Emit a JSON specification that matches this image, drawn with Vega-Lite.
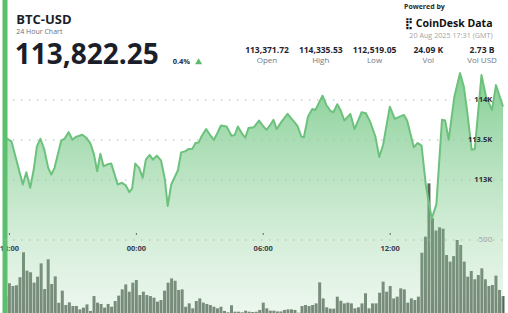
{
  "$schema": "https://vega.github.io/schema/vega-lite/v6.json",
  "width": 508,
  "height": 313,
  "autosize": {"type": "none"},
  "padding": 0,
  "background": "#ffffff",
  "config": {"view": {"stroke": null}, "font": "Open Sans"},
  "datasets": {
    "price": [
      {"t": "2025-08-19T17:47:00Z", "p": 113534}, {"t": "2025-08-19T18:06:00Z", "p": 113482},
      {"t": "2025-08-19T18:38:00Z", "p": 112944}, {"t": "2025-08-19T18:48:00Z", "p": 113097},
      {"t": "2025-08-19T18:59:00Z", "p": 112903}, {"t": "2025-08-19T19:09:00Z", "p": 113131},
      {"t": "2025-08-19T19:18:00Z", "p": 113420}, {"t": "2025-08-19T19:28:00Z", "p": 113516},
      {"t": "2025-08-19T19:39:00Z", "p": 113379}, {"t": "2025-08-19T19:50:00Z", "p": 113152},
      {"t": "2025-08-19T19:59:00Z", "p": 113069}, {"t": "2025-08-19T20:08:00Z", "p": 113152},
      {"t": "2025-08-19T20:27:00Z", "p": 113495}, {"t": "2025-08-19T20:36:00Z", "p": 113512},
      {"t": "2025-08-19T20:48:00Z", "p": 113599}, {"t": "2025-08-19T20:59:00Z", "p": 113503},
      {"t": "2025-08-19T21:08:00Z", "p": 113537}, {"t": "2025-08-19T21:27:00Z", "p": 113565},
      {"t": "2025-08-19T21:39:00Z", "p": 113524}, {"t": "2025-08-19T21:50:00Z", "p": 113454},
      {"t": "2025-08-19T22:00:00Z", "p": 113317}, {"t": "2025-08-19T22:09:00Z", "p": 113110},
      {"t": "2025-08-19T22:18:00Z", "p": 113329}, {"t": "2025-08-19T22:27:00Z", "p": 113172},
      {"t": "2025-08-19T22:37:00Z", "p": 113193}, {"t": "2025-08-19T22:49:00Z", "p": 113205},
      {"t": "2025-08-19T23:07:00Z", "p": 112944}, {"t": "2025-08-19T23:19:00Z", "p": 112965},
      {"t": "2025-08-19T23:30:00Z", "p": 112932}, {"t": "2025-08-19T23:40:00Z", "p": 112849},
      {"t": "2025-08-19T23:48:00Z", "p": 112891}, {"t": "2025-08-19T23:57:00Z", "p": 113205},
      {"t": "2025-08-20T00:08:00Z", "p": 113152}, {"t": "2025-08-20T00:18:00Z", "p": 113028},
      {"t": "2025-08-20T00:27:00Z", "p": 113255}, {"t": "2025-08-20T00:38:00Z", "p": 113313},
      {"t": "2025-08-20T00:47:00Z", "p": 113255}, {"t": "2025-08-20T00:58:00Z", "p": 113304},
      {"t": "2025-08-20T01:10:00Z", "p": 113246}, {"t": "2025-08-20T01:21:00Z", "p": 113006},
      {"t": "2025-08-20T01:29:00Z", "p": 112675}, {"t": "2025-08-20T01:39:00Z", "p": 112944},
      {"t": "2025-08-20T01:58:00Z", "p": 113122}, {"t": "2025-08-20T02:07:00Z", "p": 113345},
      {"t": "2025-08-20T02:18:00Z", "p": 113358}, {"t": "2025-08-20T02:29:00Z", "p": 113388},
      {"t": "2025-08-20T02:39:00Z", "p": 113391}, {"t": "2025-08-20T02:48:00Z", "p": 113462},
      {"t": "2025-08-20T02:57:00Z", "p": 113470}, {"t": "2025-08-20T03:06:00Z", "p": 113553},
      {"t": "2025-08-20T03:18:00Z", "p": 113636}, {"t": "2025-08-20T03:29:00Z", "p": 113565},
      {"t": "2025-08-20T03:40:00Z", "p": 113503}, {"t": "2025-08-20T03:49:00Z", "p": 113578},
      {"t": "2025-08-20T04:00:00Z", "p": 113681}, {"t": "2025-08-20T04:16:00Z", "p": 113668},
      {"t": "2025-08-20T04:30:00Z", "p": 113553}, {"t": "2025-08-20T04:39:00Z", "p": 113562},
      {"t": "2025-08-20T04:48:00Z", "p": 113668}, {"t": "2025-08-20T04:59:00Z", "p": 113586},
      {"t": "2025-08-20T05:09:00Z", "p": 113528}, {"t": "2025-08-20T05:18:00Z", "p": 113649},
      {"t": "2025-08-20T05:33:00Z", "p": 113658}, {"t": "2025-08-20T05:48:00Z", "p": 113743},
      {"t": "2025-08-20T05:57:00Z", "p": 113690}, {"t": "2025-08-20T06:09:00Z", "p": 113627},
      {"t": "2025-08-20T06:20:00Z", "p": 113690}, {"t": "2025-08-20T06:29:00Z", "p": 113752},
      {"t": "2025-08-20T06:38:00Z", "p": 113636}, {"t": "2025-08-20T06:52:00Z", "p": 113730},
      {"t": "2025-08-20T07:09:00Z", "p": 113826}, {"t": "2025-08-20T07:23:00Z", "p": 113752},
      {"t": "2025-08-20T07:37:00Z", "p": 113677}, {"t": "2025-08-20T07:48:00Z", "p": 113544},
      {"t": "2025-08-20T07:55:00Z", "p": 113532}, {"t": "2025-08-20T08:07:00Z", "p": 113793},
      {"t": "2025-08-20T08:19:00Z", "p": 113888}, {"t": "2025-08-20T08:28:00Z", "p": 113876},
      {"t": "2025-08-20T08:48:00Z", "p": 114053}, {"t": "2025-08-20T08:59:00Z", "p": 113938},
      {"t": "2025-08-20T09:11:00Z", "p": 113863}, {"t": "2025-08-20T09:19:00Z", "p": 113847},
      {"t": "2025-08-20T09:30:00Z", "p": 113947}, {"t": "2025-08-20T09:39:00Z", "p": 113876},
      {"t": "2025-08-20T09:50:00Z", "p": 113743}, {"t": "2025-08-20T10:07:00Z", "p": 113826},
      {"t": "2025-08-20T10:19:00Z", "p": 113636}, {"t": "2025-08-20T10:39:00Z", "p": 113847},
      {"t": "2025-08-20T10:51:00Z", "p": 113835}, {"t": "2025-08-20T11:03:00Z", "p": 113730},
      {"t": "2025-08-20T11:18:00Z", "p": 113544}, {"t": "2025-08-20T11:29:00Z", "p": 113288},
      {"t": "2025-08-20T11:40:00Z", "p": 113441}, {"t": "2025-08-20T11:59:00Z", "p": 113917},
      {"t": "2025-08-20T12:13:00Z", "p": 113764}, {"t": "2025-08-20T12:27:00Z", "p": 113793},
      {"t": "2025-08-20T12:39:00Z", "p": 113814}, {"t": "2025-08-20T12:48:00Z", "p": 113745},
      {"t": "2025-08-20T13:07:00Z", "p": 113410}, {"t": "2025-08-20T13:18:00Z", "p": 113462},
      {"t": "2025-08-20T13:29:00Z", "p": 113429}, {"t": "2025-08-20T13:41:00Z", "p": 112944},
      {"t": "2025-08-20T13:48:00Z", "p": 112758}, {"t": "2025-08-20T13:58:00Z", "p": 112519},
      {"t": "2025-08-20T14:11:00Z", "p": 112696}, {"t": "2025-08-20T14:27:00Z", "p": 113752},
      {"t": "2025-08-20T14:36:00Z", "p": 113743}, {"t": "2025-08-20T14:46:00Z", "p": 113503},
      {"t": "2025-08-20T15:02:00Z", "p": 114041}, {"t": "2025-08-20T15:18:00Z", "p": 114336},
      {"t": "2025-08-20T15:29:00Z", "p": 114165}, {"t": "2025-08-20T15:39:00Z", "p": 113835},
      {"t": "2025-08-20T15:51:00Z", "p": 113379}, {"t": "2025-08-20T16:00:00Z", "p": 113388},
      {"t": "2025-08-20T16:19:00Z", "p": 114311}, {"t": "2025-08-20T16:32:00Z", "p": 114041},
      {"t": "2025-08-20T16:49:00Z", "p": 113876}, {"t": "2025-08-20T17:00:00Z", "p": 114186},
      {"t": "2025-08-20T17:20:00Z", "p": 113917}
    ],
    "volume": [
      {"t": "2025-08-19T17:50:00Z", "v": 112}, {"t": "2025-08-19T18:00:00Z", "v": 203},
      {"t": "2025-08-19T18:10:00Z", "v": 185}, {"t": "2025-08-19T18:20:00Z", "v": 190},
      {"t": "2025-08-19T18:30:00Z", "v": 245}, {"t": "2025-08-19T18:40:00Z", "v": 416},
      {"t": "2025-08-19T18:50:00Z", "v": 290}, {"t": "2025-08-19T19:00:00Z", "v": 279},
      {"t": "2025-08-19T19:10:00Z", "v": 208}, {"t": "2025-08-19T19:20:00Z", "v": 249},
      {"t": "2025-08-19T19:30:00Z", "v": 340}, {"t": "2025-08-19T19:40:00Z", "v": 164},
      {"t": "2025-08-19T19:50:00Z", "v": 368}, {"t": "2025-08-19T20:00:00Z", "v": 199},
      {"t": "2025-08-19T20:10:00Z", "v": 251}, {"t": "2025-08-19T20:20:00Z", "v": 70},
      {"t": "2025-08-19T20:30:00Z", "v": 153}, {"t": "2025-08-19T20:40:00Z", "v": 55},
      {"t": "2025-08-19T20:50:00Z", "v": 73}, {"t": "2025-08-19T21:00:00Z", "v": 48},
      {"t": "2025-08-19T21:10:00Z", "v": 48}, {"t": "2025-08-19T21:20:00Z", "v": 25},
      {"t": "2025-08-19T21:30:00Z", "v": 37}, {"t": "2025-08-19T21:40:00Z", "v": 59},
      {"t": "2025-08-19T21:50:00Z", "v": 14}, {"t": "2025-08-19T22:00:00Z", "v": 116},
      {"t": "2025-08-19T22:10:00Z", "v": 71}, {"t": "2025-08-19T22:20:00Z", "v": 62},
      {"t": "2025-08-19T22:30:00Z", "v": 37}, {"t": "2025-08-19T22:40:00Z", "v": 62},
      {"t": "2025-08-19T22:50:00Z", "v": 43}, {"t": "2025-08-19T23:00:00Z", "v": 82},
      {"t": "2025-08-19T23:10:00Z", "v": 119}, {"t": "2025-08-19T23:20:00Z", "v": 162},
      {"t": "2025-08-19T23:30:00Z", "v": 196}, {"t": "2025-08-19T23:40:00Z", "v": 146},
      {"t": "2025-08-19T23:50:00Z", "v": 208}, {"t": "2025-08-20T00:00:00Z", "v": 226},
      {"t": "2025-08-20T00:10:00Z", "v": 123}, {"t": "2025-08-20T00:20:00Z", "v": 146},
      {"t": "2025-08-20T00:30:00Z", "v": 123}, {"t": "2025-08-20T00:40:00Z", "v": 116},
      {"t": "2025-08-20T00:50:00Z", "v": 105}, {"t": "2025-08-20T01:00:00Z", "v": 78},
      {"t": "2025-08-20T01:10:00Z", "v": 89}, {"t": "2025-08-20T01:20:00Z", "v": 153},
      {"t": "2025-08-20T01:30:00Z", "v": 208}, {"t": "2025-08-20T01:40:00Z", "v": 237},
      {"t": "2025-08-20T01:50:00Z", "v": 221}, {"t": "2025-08-20T02:00:00Z", "v": 158},
      {"t": "2025-08-20T02:10:00Z", "v": 162}, {"t": "2025-08-20T02:20:00Z", "v": 43},
      {"t": "2025-08-20T02:30:00Z", "v": 66}, {"t": "2025-08-20T02:40:00Z", "v": 32},
      {"t": "2025-08-20T02:50:00Z", "v": 82}, {"t": "2025-08-20T03:00:00Z", "v": 100},
      {"t": "2025-08-20T03:10:00Z", "v": 71}, {"t": "2025-08-20T03:20:00Z", "v": 62},
      {"t": "2025-08-20T03:30:00Z", "v": 55}, {"t": "2025-08-20T03:40:00Z", "v": 43},
      {"t": "2025-08-20T03:50:00Z", "v": 32}, {"t": "2025-08-20T04:00:00Z", "v": 43},
      {"t": "2025-08-20T04:10:00Z", "v": 14}, {"t": "2025-08-20T04:20:00Z", "v": 5},
      {"t": "2025-08-20T04:30:00Z", "v": 53}, {"t": "2025-08-20T04:40:00Z", "v": 9},
      {"t": "2025-08-20T04:50:00Z", "v": 9}, {"t": "2025-08-20T05:00:00Z", "v": 5},
      {"t": "2025-08-20T05:10:00Z", "v": 16}, {"t": "2025-08-20T05:20:00Z", "v": 9},
      {"t": "2025-08-20T05:30:00Z", "v": 7}, {"t": "2025-08-20T05:40:00Z", "v": 9},
      {"t": "2025-08-20T05:50:00Z", "v": 21}, {"t": "2025-08-20T06:00:00Z", "v": 71},
      {"t": "2025-08-20T06:10:00Z", "v": 32}, {"t": "2025-08-20T06:20:00Z", "v": 16},
      {"t": "2025-08-20T06:30:00Z", "v": 16}, {"t": "2025-08-20T06:40:00Z", "v": 11},
      {"t": "2025-08-20T06:50:00Z", "v": 11}, {"t": "2025-08-20T07:00:00Z", "v": 21},
      {"t": "2025-08-20T07:10:00Z", "v": 25}, {"t": "2025-08-20T07:20:00Z", "v": 25},
      {"t": "2025-08-20T07:30:00Z", "v": 21}, {"t": "2025-08-20T07:40:00Z", "v": 2},
      {"t": "2025-08-20T07:50:00Z", "v": 48}, {"t": "2025-08-20T08:00:00Z", "v": 55},
      {"t": "2025-08-20T08:10:00Z", "v": 48}, {"t": "2025-08-20T08:20:00Z", "v": 55},
      {"t": "2025-08-20T08:30:00Z", "v": 66}, {"t": "2025-08-20T08:40:00Z", "v": 210},
      {"t": "2025-08-20T08:50:00Z", "v": 100}, {"t": "2025-08-20T09:00:00Z", "v": 39},
      {"t": "2025-08-20T09:10:00Z", "v": 30}, {"t": "2025-08-20T09:20:00Z", "v": 30},
      {"t": "2025-08-20T09:30:00Z", "v": 112}, {"t": "2025-08-20T09:40:00Z", "v": 84},
      {"t": "2025-08-20T09:50:00Z", "v": 66}, {"t": "2025-08-20T10:00:00Z", "v": 71},
      {"t": "2025-08-20T10:10:00Z", "v": 66}, {"t": "2025-08-20T10:20:00Z", "v": 32},
      {"t": "2025-08-20T10:30:00Z", "v": 39}, {"t": "2025-08-20T10:40:00Z", "v": 66},
      {"t": "2025-08-20T10:50:00Z", "v": 135}, {"t": "2025-08-20T11:00:00Z", "v": 32},
      {"t": "2025-08-20T11:10:00Z", "v": 66}, {"t": "2025-08-20T11:20:00Z", "v": 66},
      {"t": "2025-08-20T11:30:00Z", "v": 139}, {"t": "2025-08-20T11:40:00Z", "v": 215},
      {"t": "2025-08-20T11:50:00Z", "v": 146}, {"t": "2025-08-20T12:00:00Z", "v": 185},
      {"t": "2025-08-20T12:10:00Z", "v": 100}, {"t": "2025-08-20T12:20:00Z", "v": 112},
      {"t": "2025-08-20T12:30:00Z", "v": 169}, {"t": "2025-08-20T12:40:00Z", "v": 162},
      {"t": "2025-08-20T12:50:00Z", "v": 71}, {"t": "2025-08-20T13:00:00Z", "v": 100},
      {"t": "2025-08-20T13:10:00Z", "v": 89}, {"t": "2025-08-20T13:20:00Z", "v": 112},
      {"t": "2025-08-20T13:30:00Z", "v": 413}, {"t": "2025-08-20T13:40:00Z", "v": 523},
      {"t": "2025-08-20T13:50:00Z", "v": 888}, {"t": "2025-08-20T14:00:00Z", "v": 649},
      {"t": "2025-08-20T14:10:00Z", "v": 565}, {"t": "2025-08-20T14:20:00Z", "v": 587},
      {"t": "2025-08-20T14:30:00Z", "v": 578}, {"t": "2025-08-20T14:40:00Z", "v": 397},
      {"t": "2025-08-20T14:50:00Z", "v": 352}, {"t": "2025-08-20T15:00:00Z", "v": 390},
      {"t": "2025-08-20T15:10:00Z", "v": 500}, {"t": "2025-08-20T15:20:00Z", "v": 466},
      {"t": "2025-08-20T15:30:00Z", "v": 352}, {"t": "2025-08-20T15:40:00Z", "v": 249},
      {"t": "2025-08-20T15:50:00Z", "v": 288}, {"t": "2025-08-20T16:00:00Z", "v": 231},
      {"t": "2025-08-20T16:10:00Z", "v": 260}, {"t": "2025-08-20T16:20:00Z", "v": 306},
      {"t": "2025-08-20T16:30:00Z", "v": 231}, {"t": "2025-08-20T16:40:00Z", "v": 185},
      {"t": "2025-08-20T16:50:00Z", "v": 192}, {"t": "2025-08-20T17:00:00Z", "v": 256},
      {"t": "2025-08-20T17:10:00Z", "v": 158}, {"t": "2025-08-20T17:20:00Z", "v": 116}
    ],
    "priceGrid": [{"g": 113000, "label": "113K"}, {"g": 113500, "label": "113.5K"}, {"g": 114000, "label": "114K"}],
    "volGrid": [{"g": 500, "label": "500"}],
    "xTicks": [
      {"t": "2025-08-19T18:00:00Z", "label": "18:00"},
      {"t": "2025-08-20T00:00:00Z", "label": "00:00"},
      {"t": "2025-08-20T06:00:00Z", "label": "06:00"},
      {"t": "2025-08-20T12:00:00Z", "label": "12:00"}
    ],
    "stats": [
      {"stat": "Open", "value": "113,371.72"},
      {"stat": "High", "value": "114,335.53"},
      {"stat": "Low", "value": "112,519.05"},
      {"stat": "Vol", "value": "24.09 K"},
      {"stat": "Vol USD", "value": "2.73 B"}
    ]
  },
  "layer": [
    {
      "layer": [
        {
          "data": {"name": "volume"},
          "mark": {"type": "bar", "color": "#59645a", "width": 3.0},
          "encoding": {
            "x": {
              "field": "t", "type": "temporal",
              "scale": {"type": "utc", "nice": false, "domain": [
                {"year": 2025, "month": "Aug", "date": 19, "hours": 17, "minutes": 47, "seconds": 30, "utc": true},
                {"year": 2025, "month": "Aug", "date": 20, "hours": 17, "minutes": 20, "utc": true}]},
              "axis": null
            },
            "y": {
              "field": "v", "type": "quantitative",
              "scale": {"domain": [0, 2144], "nice": false, "zero": true},
              "axis": null
            }
          }
        },
        {
          "layer": [
            {
              "data": {"name": "price"},
              "mark": {
                "type": "area", "interpolate": "linear",
                "color": {
                  "gradient": "linear", "x1": 1, "y1": 1, "x2": 1, "y2": 0,
                  "stops": [
                    {"offset": 0, "color": "rgba(192,228,198,0.3)"},
                    {"offset": 0.5, "color": "rgba(134,206,148,0.5)"},
                    {"offset": 1, "color": "rgba(80,186,102,0.7)"}
                  ]
                }
              },
              "encoding": {
                "x": {"field": "t", "type": "temporal", "axis": null},
                "y": {
                  "field": "p", "type": "quantitative",
                  "scale": {"domain": [111337.5, 115250], "zero": false, "nice": false},
                  "axis": null
                },
                "y2": {"datum": 111337.5}
              }
            },
            {
              "data": {"name": "priceGrid"},
              "mark": {"type": "rule", "color": "#b8b8b8", "strokeWidth": 1, "strokeDash": [1.5, 6.5]},
              "encoding": {
                "x": {"datum": {"year": 2025, "month": "Aug", "date": 19, "hours": 17, "minutes": 47, "seconds": 30, "utc": true}, "type": "temporal", "axis": null},
                "x2": {"datum": {"year": 2025, "month": "Aug", "date": 20, "hours": 17, "minutes": 20, "utc": true}},
                "y": {"field": "g", "type": "quantitative", "axis": null}
              }
            },
            {
              "data": {"name": "price"},
              "mark": {"type": "line", "color": "#6cc27c", "strokeWidth": 2, "strokeJoin": "round"},
              "encoding": {
                "x": {"field": "t", "type": "temporal", "axis": null},
                "y": {"field": "p", "type": "quantitative", "axis": null}
              }
            },
            {
              "data": {"name": "priceGrid"},
              "mark": {"type": "text", "font": "Open Sans", "fontSize": 7.5, "fontWeight": "bold", "color": "#2b2f38", "align": "right", "baseline": "middle"},
              "encoding": {
                "x": {"datum": {"year": 2025, "month": "Aug", "date": 20, "hours": 16, "minutes": 49, "seconds": 24, "utc": true}, "type": "temporal", "axis": null},
                "y": {"field": "g", "type": "quantitative", "axis": null},
                "text": {"field": "label", "type": "nominal"}
              }
            },
            {
              "data": {"name": "xTicks"},
              "mark": {"type": "rule", "color": "#666666", "strokeWidth": 1},
              "encoding": {
                "x": {"field": "t", "type": "temporal", "axis": null},
                "y": {"datum": 112337.5, "type": "quantitative", "axis": null},
                "y2": {"datum": 112312.5}
              }
            },
            {
              "data": {"name": "xTicks"},
              "mark": {"type": "text", "font": "Open Sans", "fontSize": 7.5, "fontWeight": "bold", "color": "#3a404c", "align": "center", "baseline": "alphabetic"},
              "encoding": {
                "x": {"field": "t", "type": "temporal", "axis": null},
                "y": {"datum": 112118.75, "type": "quantitative", "axis": null},
                "text": {"field": "label", "type": "nominal"}
              }
            },
            {
              "data": {"values": [{}]},
              "mark": {"type": "text", "text": "BTC-USD", "font": "Open Sans", "fontSize": 13, "fontWeight": "bold", "color": "#1b1f2a", "align": "left", "baseline": "alphabetic"},
              "encoding": {
                "x": {"datum": {"year": 2025, "month": "Aug", "date": 19, "hours": 18, "minutes": 19, "seconds": 30, "utc": true}, "type": "temporal", "axis": null},
                "y": {"datum": 114956.25, "type": "quantitative", "axis": null}
              }
            },
            {
              "data": {"values": [{}]},
              "mark": {"type": "text", "text": "24 Hour Chart", "font": "Open Sans", "fontSize": 7, "color": "#6b6f78", "align": "left", "baseline": "alphabetic"},
              "encoding": {
                "x": {"datum": {"year": 2025, "month": "Aug", "date": 19, "hours": 18, "minutes": 19, "seconds": 30, "utc": true}, "type": "temporal", "axis": null},
                "y": {"datum": 114830, "type": "quantitative", "axis": null}
              }
            },
            {
              "data": {"values": [{}]},
              "mark": {"type": "text", "text": "113,822.25", "font": "Open Sans", "fontSize": 28, "fontWeight": "bold", "color": "#1b1f2a", "align": "left", "baseline": "alphabetic"},
              "encoding": {
                "x": {"datum": {"year": 2025, "month": "Aug", "date": 19, "hours": 18, "minutes": 15, "seconds": 18, "utc": true}, "type": "temporal", "axis": null},
                "y": {"datum": 114450, "type": "quantitative", "axis": null}
              }
            },
            {
              "data": {"values": [{}]},
              "mark": {"type": "text", "text": "0.4%", "font": "Open Sans", "fontSize": 7.5, "fontWeight": "bold", "color": "#2b2f38", "align": "left", "baseline": "alphabetic"},
              "encoding": {
                "x": {"datum": {"year": 2025, "month": "Aug", "date": 20, "hours": 1, "minutes": 43, "utc": true}, "type": "temporal", "axis": null},
                "y": {"datum": 114450, "type": "quantitative", "axis": null}
              }
            },
            {
              "data": {"values": [{}]},
              "mark": {"type": "point", "shape": "triangle-up", "filled": true, "color": "#5dbb6e", "size": 50, "opacity": 1},
              "encoding": {
                "x": {"datum": {"year": 2025, "month": "Aug", "date": 20, "hours": 2, "minutes": 56, "seconds": 40, "utc": true}, "type": "temporal", "axis": null},
                "y": {"datum": 114485, "type": "quantitative", "axis": null}
              }
            },
            {
              "data": {"values": [{}]},
              "mark": {"type": "text", "text": "Powered by", "font": "Open Sans", "fontSize": 7, "fontWeight": "bold", "color": "#2a2a2a", "align": "left", "baseline": "alphabetic"},
              "encoding": {
                "x": {"datum": {"year": 2025, "month": "Aug", "date": 20, "hours": 12, "minutes": 39, "seconds": 12, "utc": true}, "type": "temporal", "axis": null},
                "y": {"datum": 115133.75, "type": "quantitative", "axis": null}
              }
            },
            {
              "data": {"values": [{}]},
              "mark": {"type": "text", "text": "⣟", "font": "DejaVu Sans", "fontSize": 11, "fontWeight": "bold", "color": "#111111", "align": "center", "baseline": "alphabetic"},
              "encoding": {
                "x": {"datum": {"year": 2025, "month": "Aug", "date": 20, "hours": 12, "minutes": 53, "seconds": 6, "utc": true}, "type": "temporal", "axis": null},
                "y": {"datum": 114916.25, "type": "quantitative", "axis": null}
              }
            },
            {
              "data": {"values": [{}]},
              "mark": {"type": "text", "text": "CoinDesk Data", "font": "Open Sans", "fontSize": 10.5, "fontWeight": "bold", "color": "#111111", "align": "right", "baseline": "alphabetic"},
              "encoding": {
                "x": {"datum": {"year": 2025, "month": "Aug", "date": 20, "hours": 16, "minutes": 50, "seconds": 18, "utc": true}, "type": "temporal", "axis": null},
                "y": {"datum": 114916.25, "type": "quantitative", "axis": null}
              }
            },
            {
              "data": {"values": [{}]},
              "mark": {"type": "text", "text": "20 Aug 2025 17:31 (GMT)", "font": "Open Sans", "fontSize": 7.2, "color": "#a3a3a3", "align": "right", "baseline": "alphabetic"},
              "encoding": {
                "x": {"datum": {"year": 2025, "month": "Aug", "date": 20, "hours": 16, "minutes": 50, "seconds": 18, "utc": true}, "type": "temporal", "axis": null},
                "y": {"datum": 114781.25, "type": "quantitative", "axis": null}
              }
            },
            {
              "data": {"values": [{}]},
              "mark": {"type": "rule", "color": "#5cbf6e", "strokeWidth": 5},
              "encoding": {
                "x": {"datum": {"year": 2025, "month": "Aug", "date": 19, "hours": 17, "minutes": 47, "seconds": 30, "utc": true}, "type": "temporal", "axis": null}
              }
            }
          ]
        },
        {
          "data": {"name": "volGrid"},
          "layer": [
            {
              "mark": {"type": "rule", "color": "#b8b8b8", "strokeWidth": 1, "strokeDash": [1.5, 6.5]},
              "encoding": {
                "x": {"datum": {"year": 2025, "month": "Aug", "date": 19, "hours": 17, "minutes": 47, "seconds": 30, "utc": true}, "type": "temporal", "axis": null},
                "x2": {"datum": {"year": 2025, "month": "Aug", "date": 20, "hours": 17, "minutes": 20, "utc": true}},
                "y": {"field": "g", "type": "quantitative", "scale": {"domain": [0, 2144], "nice": false, "zero": true}, "axis": null}
              }
            },
            {
              "mark": {"type": "text", "font": "Open Sans", "fontSize": 8, "color": "#a0a0a0", "align": "right", "baseline": "middle"},
              "encoding": {
                "x": {"datum": {"year": 2025, "month": "Aug", "date": 20, "hours": 16, "minutes": 49, "seconds": 24, "utc": true}, "type": "temporal", "axis": null},
                "y": {"field": "g", "type": "quantitative", "axis": null},
                "text": {"field": "label", "type": "nominal"}
              }
            }
          ]
        }
      ],
      "resolve": {"scale": {"y": "independent"}}
    },
    {
      "data": {"name": "stats"},
      "encoding": {
        "x": {
          "field": "stat", "type": "nominal", "sort": null,
          "scale": {"type": "point", "domain": ["Open", "High", "Low", "Vol", "Vol USD"], "range": [267, 482], "padding": 0},
          "axis": null
        }
      },
      "layer": [
        {
          "mark": {"type": "text", "font": "Open Sans", "fontSize": 8.5, "fontWeight": "bold", "color": "#1f2430", "align": "center", "baseline": "alphabetic"},
          "encoding": {
            "text": {"field": "value", "type": "nominal"},
            "y": {"datum": "values", "type": "nominal",
                  "scale": {"type": "point", "domain": ["values", "labels"], "range": [52.7, 62.5], "padding": 0},
                  "axis": null}
          }
        },
        {
          "mark": {"type": "text", "font": "Open Sans", "fontSize": 8, "color": "#73777f", "align": "center", "baseline": "alphabetic"},
          "encoding": {
            "text": {"field": "stat", "type": "nominal"},
            "y": {"datum": "labels", "type": "nominal", "axis": null}
          }
        }
      ]
    }
  ],
  "resolve": {"scale": {"x": "independent", "y": "independent"}}
}
